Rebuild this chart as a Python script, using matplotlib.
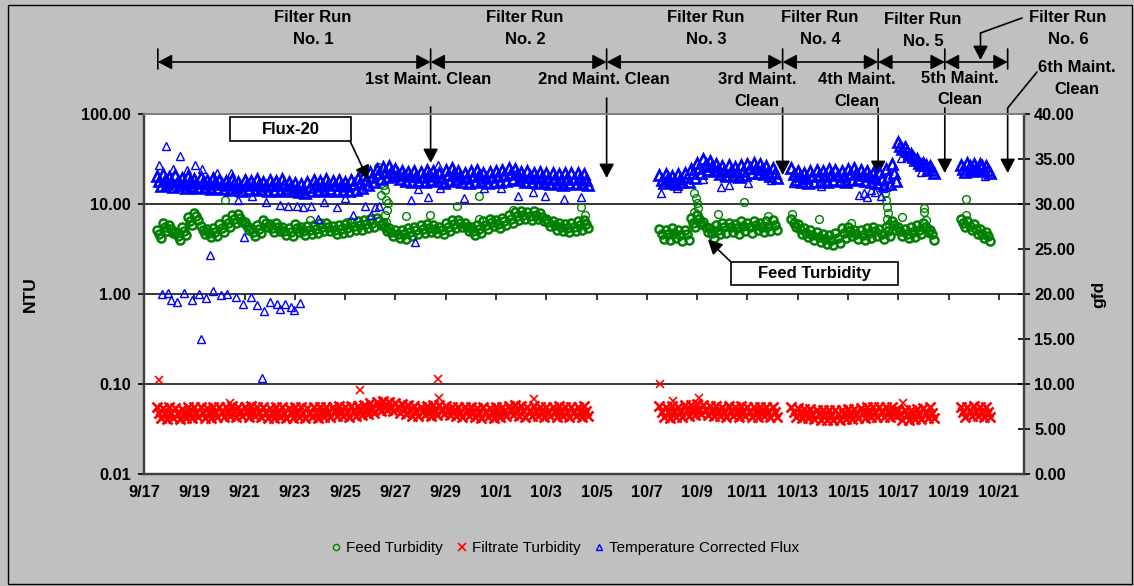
import numpy as np
import matplotlib
matplotlib.use("Agg")
import matplotlib.pyplot as plt
from matplotlib.lines import Line2D
from matplotlib.patches import Rectangle
from matplotlib.ticker import FixedLocator, NullLocator, FuncFormatter

plt.rcParams['font.family'] = ['Liberation Sans', 'DejaVu Sans']

W, H = 1134, 586

# ---------------------------------------------------------------- data
# logged stretches, in days after 9/17 00:00; each 0.25-day slot holds three
# readings (high, middle, low) taken a third of a slot apart
seg_start = [0.5, 20.5, 25.75, 30.0, 32.5]
seg_stop = [17.5, 25.0, 29.75, 31.25, 33.5]
step = 0.25

tick_days = list(range(0, 35, 2))
tick_labels = ['9/17', '9/19', '9/21', '9/23', '9/25', '9/27', '9/29', '10/1', '10/3',
               '10/5', '10/7', '10/9', '10/11', '10/13', '10/15', '10/17', '10/19', '10/21']

# feed turbidity (NTU)
feed_hi = [5.1, 6.2, 5.9, 4.9, 5.5, 7.1, 8.0, 5.7, 5.3, 5.4,
           6.0, 6.8, 7.5, 7.7, 6.3, 5.4, 5.8, 6.7, 6.0, 6.2,
           5.5, 5.4, 6.0, 5.5, 5.7, 5.9, 6.2, 6.1, 5.7, 5.9,
           6.0, 6.3, 6.4, 6.6, 6.8, 7.0, 6.2, 5.4, 5.2, 5.1,
           5.4, 5.6, 5.9, 6.0, 5.9, 5.6, 6.2, 6.6, 6.7, 6.2,
           5.5, 5.9, 6.5, 6.9, 6.6, 7.0, 7.6, 8.1, 8.4, 8.1,
           8.4, 7.9, 6.9, 6.4, 6.2, 6.0, 6.1, 6.4, 6.6,
           5.3, 5.2, 5.4, 5.1, 5.2, 7.0, 7.6, 6.3, 5.4, 5.8,
           6.1, 6.2, 6.0, 6.4, 6.1, 6.5, 6.2, 6.4, 6.6,
           6.9, 6.0, 5.4, 5.1, 4.9, 4.6, 4.5, 4.8, 5.4, 5.6,
           5.2, 5.1, 5.4, 5.6, 5.3, 5.6, 6.5,
           5.6, 5.3, 5.5, 5.8, 6.2, 5.2,
           6.8, 6.4, 6.0, 5.3, 4.9]
feed_mid = [4.6, 5.6, 5.3, 4.4, 5.0, 6.4, 7.3, 5.2, 4.8, 4.9,
            5.4, 6.2, 6.8, 7.0, 5.7, 4.9, 5.3, 6.1, 5.4, 5.6,
            5.0, 4.9, 5.4, 5.0, 5.2, 5.3, 5.6, 5.5, 5.2, 5.3,
            5.4, 5.7, 5.8, 6.0, 6.2, 6.4, 5.6, 4.9, 4.7, 4.6,
            4.9, 5.1, 5.3, 5.4, 5.3, 5.1, 5.6, 6.0, 6.1, 5.6,
            5.0, 5.3, 5.9, 6.3, 6.0, 6.4, 6.9, 7.4, 7.6, 7.4,
            7.6, 7.2, 6.3, 5.8, 5.6, 5.4, 5.5, 5.8, 6.0,
            4.7, 4.6, 4.8, 4.5, 4.6, 6.2, 6.8, 5.6, 4.8, 5.2,
            5.5, 5.6, 5.4, 5.7, 5.5, 5.8, 5.6, 5.7, 5.9,
            6.2, 5.3, 4.8, 4.5, 4.3, 4.1, 4.0, 4.2, 4.8, 5.0,
            4.6, 4.5, 4.8, 5.0, 4.7, 5.0, 5.8,
            5.0, 4.7, 4.9, 5.2, 5.5, 4.6,
            6.1, 5.7, 5.3, 4.7, 4.4]
feed_lo = [4.2, 5.0, 4.8, 4.0, 4.5, 5.8, 6.6, 4.7, 4.3, 4.4,
           4.9, 5.6, 6.1, 6.3, 5.1, 4.4, 4.8, 5.5, 4.9, 5.0,
           4.5, 4.4, 4.9, 4.5, 4.7, 4.8, 5.0, 5.0, 4.7, 4.8,
           4.9, 5.1, 5.2, 5.4, 5.6, 5.8, 5.0, 4.4, 4.2, 4.1,
           4.4, 4.6, 4.8, 4.9, 4.8, 4.6, 5.0, 5.4, 5.5, 5.0,
           4.5, 4.8, 5.3, 5.7, 5.4, 5.8, 6.2, 6.7, 6.8, 6.7,
           6.8, 6.5, 5.7, 5.2, 5.0, 4.9, 5.0, 5.2, 5.4,
           4.1, 4.0, 4.2, 3.9, 4.0, 5.5, 6.0, 4.9, 4.2, 4.6,
           4.8, 4.9, 4.7, 5.0, 4.8, 5.1, 4.9, 5.0, 5.2,
           5.5, 4.7, 4.3, 4.0, 3.8, 3.6, 3.5, 3.7, 4.2, 4.4,
           4.1, 4.0, 4.2, 4.4, 4.1, 4.4, 5.1,
           4.4, 4.2, 4.3, 4.6, 4.9, 4.0,
           5.5, 5.1, 4.7, 4.2, 3.9]

# filtrate turbidity (NTU)
filt_hi = [0.055, 0.054, 0.055, 0.054, 0.053, 0.055, 0.055, 0.055, 0.054, 0.055,
           0.056, 0.055, 0.057, 0.056, 0.055, 0.057, 0.056, 0.055, 0.054, 0.056,
           0.055, 0.054, 0.056, 0.055, 0.054, 0.055, 0.056, 0.055, 0.056, 0.057,
           0.056, 0.057, 0.057, 0.058, 0.061, 0.063, 0.064, 0.063, 0.062, 0.060,
           0.058, 0.057, 0.056, 0.057, 0.058, 0.058, 0.057, 0.056, 0.055, 0.056,
           0.055, 0.054, 0.055, 0.054, 0.055, 0.056, 0.057, 0.058, 0.057, 0.056,
           0.057, 0.056, 0.055, 0.056, 0.057, 0.056, 0.055, 0.056, 0.057,
           0.057, 0.056, 0.057, 0.056, 0.058, 0.059, 0.060, 0.059, 0.057, 0.057,
           0.056, 0.057, 0.056, 0.057, 0.056, 0.055, 0.056, 0.055, 0.056,
           0.055, 0.054, 0.053, 0.053, 0.052, 0.051, 0.051, 0.052, 0.052, 0.053,
           0.053, 0.054, 0.055, 0.055, 0.056, 0.055, 0.056,
           0.052, 0.051, 0.052, 0.053, 0.054, 0.055,
           0.055, 0.056, 0.057, 0.056, 0.055]
filt_mid = [0.048, 0.047, 0.048, 0.047, 0.047, 0.048, 0.049, 0.048, 0.048, 0.049,
            0.049, 0.049, 0.050, 0.050, 0.049, 0.050, 0.049, 0.048, 0.048, 0.049,
            0.048, 0.048, 0.049, 0.048, 0.048, 0.048, 0.049, 0.049, 0.050, 0.050,
            0.049, 0.050, 0.051, 0.052, 0.054, 0.056, 0.057, 0.056, 0.055, 0.053,
            0.051, 0.050, 0.050, 0.050, 0.051, 0.052, 0.051, 0.050, 0.049, 0.050,
            0.049, 0.048, 0.049, 0.048, 0.049, 0.050, 0.051, 0.051, 0.050, 0.050,
            0.050, 0.049, 0.049, 0.049, 0.050, 0.049, 0.049, 0.049, 0.050,
            0.049, 0.049, 0.050, 0.049, 0.051, 0.052, 0.053, 0.052, 0.050, 0.050,
            0.049, 0.050, 0.049, 0.050, 0.049, 0.049, 0.050, 0.049, 0.049,
            0.049, 0.048, 0.047, 0.047, 0.046, 0.045, 0.045, 0.046, 0.046, 0.047,
            0.047, 0.048, 0.049, 0.049, 0.049, 0.049, 0.050,
            0.046, 0.045, 0.046, 0.047, 0.048, 0.048,
            0.049, 0.050, 0.050, 0.049, 0.049]
filt_lo = [0.042, 0.041, 0.042, 0.041, 0.042, 0.042, 0.043, 0.042, 0.042, 0.043,
           0.043, 0.044, 0.043, 0.044, 0.043, 0.044, 0.043, 0.042, 0.042, 0.043,
           0.042, 0.042, 0.043, 0.042, 0.043, 0.042, 0.043, 0.043, 0.044, 0.044,
           0.043, 0.044, 0.045, 0.046, 0.048, 0.050, 0.051, 0.050, 0.048, 0.046,
           0.044, 0.044, 0.045, 0.044, 0.045, 0.046, 0.045, 0.044, 0.043, 0.044,
           0.043, 0.042, 0.043, 0.042, 0.043, 0.044, 0.045, 0.044, 0.043, 0.044,
           0.044, 0.043, 0.044, 0.043, 0.044, 0.043, 0.044, 0.043, 0.044,
           0.043, 0.042, 0.043, 0.043, 0.044, 0.045, 0.046, 0.045, 0.044, 0.044,
           0.043, 0.044, 0.043, 0.044, 0.043, 0.043, 0.044, 0.043, 0.043,
           0.043, 0.042, 0.042, 0.041, 0.040, 0.040, 0.040, 0.040, 0.041, 0.041,
           0.042, 0.042, 0.043, 0.043, 0.043, 0.043, 0.044,
           0.040, 0.040, 0.041, 0.041, 0.042, 0.042,
           0.043, 0.044, 0.044, 0.043, 0.043]

# temperature corrected flux (gfd)
flux_hi = [33.1, 33.3, 33.0, 33.2, 32.9, 33.1, 32.8, 33.0, 32.7, 32.9,
           32.7, 32.6, 32.8, 32.5, 32.7, 32.6, 32.8, 32.5, 32.7, 32.6,
           32.8, 32.5, 32.3, 32.2, 32.5, 32.7, 32.6, 32.8, 32.6, 32.7,
           32.5, 32.7, 32.9, 33.2, 33.6, 33.9, 34.1, 34.2, 33.9, 33.7,
           33.6, 33.7, 33.6, 33.8, 33.7, 33.5, 33.8, 34.0, 33.7, 33.5,
           33.7, 33.8, 33.5, 33.6, 33.7, 33.8, 34.0, 33.9, 33.6, 33.7,
           33.5, 33.6, 33.4, 33.5, 33.3, 33.5, 33.4, 33.5, 33.3,
           33.2, 33.3, 33.1, 33.3, 33.4, 33.9, 34.6, 35.0, 34.8, 34.4,
           34.2, 34.3, 34.1, 34.3, 34.5, 34.6, 34.4, 34.2, 34.0,
           34.0, 33.7, 33.5, 33.7, 33.8, 33.7, 33.9, 33.8, 33.7, 33.9,
           34.0, 33.8, 33.7, 33.5, 33.6, 33.9, 34.4,
           36.9, 36.3, 35.6, 35.0, 34.6, 34.2,
           34.3, 34.6, 34.4, 34.5, 34.2]
flux_mid = [32.6, 32.7, 32.5, 32.6, 32.3, 32.6, 32.3, 32.4, 32.2, 32.4,
            32.2, 32.1, 32.3, 32.0, 32.2, 32.1, 32.2, 32.0, 32.1, 32.1,
            32.2, 32.0, 31.8, 31.7, 31.9, 32.2, 32.0, 32.2, 32.1, 32.1,
            32.0, 32.2, 32.3, 32.7, 33.0, 33.4, 33.6, 33.6, 33.3, 33.2,
            33.1, 33.1, 33.0, 33.3, 33.1, 32.9, 33.2, 33.4, 33.1, 32.9,
            33.1, 33.2, 32.9, 33.0, 33.1, 33.2, 33.4, 33.3, 33.0, 33.1,
            32.9, 33.0, 32.8, 32.9, 32.7, 32.9, 32.8, 32.9, 32.7,
            32.7, 32.9, 32.6, 32.8, 33.0, 33.4, 34.0, 34.4, 34.2, 33.8,
            33.7, 33.7, 33.6, 33.7, 34.0, 34.0, 33.9, 33.6, 33.5,
            33.3, 33.1, 32.9, 33.1, 33.2, 33.1, 33.3, 33.2, 33.1, 33.3,
            33.4, 33.2, 33.1, 32.9, 32.8, 33.0, 33.5,
            36.5, 35.9, 35.2, 34.6, 34.3, 33.8,
            33.9, 34.2, 34.0, 34.2, 33.8]
flux_lo = [32.0, 32.2, 31.9, 32.1, 31.8, 32.0, 31.8, 31.9, 31.7, 31.8,
           31.7, 31.6, 31.8, 31.5, 31.7, 31.6, 31.7, 31.5, 31.6, 31.5,
           31.7, 31.4, 31.3, 31.2, 31.4, 31.6, 31.5, 31.7, 31.5, 31.6,
           31.4, 31.6, 31.8, 32.1, 32.5, 32.8, 33.0, 33.1, 32.8, 32.6,
           32.5, 32.6, 32.5, 32.7, 32.6, 32.3, 32.6, 32.8, 32.5, 32.3,
           32.5, 32.6, 32.3, 32.4, 32.5, 32.6, 32.8, 32.7, 32.4, 32.5,
           32.3, 32.4, 32.2, 32.3, 32.1, 32.3, 32.2, 32.3, 32.1,
           32.3, 32.4, 32.2, 32.4, 32.5, 32.9, 33.5, 33.8, 33.7, 33.3,
           33.1, 33.2, 33.0, 33.2, 33.4, 33.5, 33.3, 33.1, 32.9,
           32.7, 32.5, 32.3, 32.5, 32.6, 32.5, 32.7, 32.6, 32.5, 32.7,
           32.8, 32.6, 32.5, 32.3, 32.1, 32.2, 32.6,
           36.1, 35.5, 34.9, 34.3, 33.9, 33.5,
           33.6, 33.8, 33.7, 33.8, 33.5]

# isolated readings away from the bands (day, value)
feed_odd_day = [3.23, 6.61, 8.09, 9.32, 9.44, 9.56, 9.60, 9.64, 9.68, 9.72, 9.60, 9.64,
                10.44, 11.39, 12.43, 13.31, 13.31, 14.66, 17.37, 17.53,
                21.87, 21.95, 21.99, 22.03, 21.87, 22.83, 23.86, 24.82, 25.78, 26.85, 28.13,
                29.48, 29.52, 29.56, 29.60, 29.56, 29.64, 30.16, 31.04, 31.04, 31.12,
                32.71, 32.71]
feed_odd_ntu = [11.1, 6.6, 6.3, 25.8, 12.6, 16.2, 14.3, 11.1, 8.6, 10.2, 7.6, 6.3,
                7.4, 7.6, 9.5, 6.8, 12.3, 8.6, 9.3, 7.6,
                13.3, 11.7, 10.2, 9.1, 8.1, 7.7, 10.5, 7.4, 7.7, 6.8, 6.2,
                13.3, 11.1, 9.3, 7.9, 6.8, 6.0, 7.2, 9.0, 8.2, 6.6,
                11.3, 7.6]

filt_odd_day = [0.60, 3.43, 8.61, 11.71, 11.75, 15.50, 20.52, 21.04, 22.07, 30.20]
filt_odd_ntu = [0.110, 0.062, 0.085, 0.113, 0.070, 0.069, 0.100, 0.065, 0.070, 0.062]

flux_odd_day = [0.60, 0.88, 1.43, 1.16, 1.71, 2.03, 2.31, 2.91, 3.47, 11.71,
                0.72, 0.96, 1.08, 1.31, 1.59, 1.91, 2.19, 2.47, 2.75, 3.07, 3.31, 3.67,
                3.94, 4.26, 4.50, 4.78, 5.02, 5.30, 5.42, 5.62, 5.86, 5.98, 6.22,
                2.27, 2.63, 4.70, 3.98, 10.76,
                3.23, 3.75, 4.30, 4.86, 5.42, 5.74, 6.10, 6.33, 6.65, 6.93, 7.17, 7.69,
                8.01, 8.33, 8.80, 9.04, 9.20, 9.36, 10.60, 10.88, 11.31, 11.79, 12.71,
                13.51, 14.18, 14.86, 15.46, 15.94, 16.69, 17.37,
                20.56, 21.20, 22.23, 22.95, 23.27, 24.02, 24.94, 25.82, 26.93, 27.81,
                28.65, 28.92, 29.40, 28.45, 28.76, 29.08, 29.32, 30.92, 33.43, 30.12]
flux_odd_gfd = [34.3, 36.4, 35.3, 33.9, 33.8, 34.3, 33.9, 33.4, 33.4, 34.3,
                20.0, 20.1, 19.3, 19.1, 20.1, 19.3, 20.0, 19.6, 20.3, 19.9, 20.0, 19.7,
                18.9, 19.7, 18.8, 18.1, 19.1, 18.9, 18.3, 18.9, 18.6, 18.2, 19.0,
                15.0, 24.3, 10.7, 26.3, 25.8,
                31.7, 30.4, 30.9, 30.2, 29.9, 29.8, 29.8, 29.7, 29.8, 28.3, 30.2, 29.7,
                30.7, 28.8, 29.8, 28.8, 29.7, 29.8, 30.4, 31.7, 30.8, 31.8, 30.7,
                31.8, 31.8, 30.9, 31.3, 30.9, 30.6, 30.8,
                31.2, 31.8, 32.8, 31.9, 32.1, 32.3, 32.7, 32.3, 32.0, 32.4,
                31.2, 31.6, 31.8, 31.0, 30.8, 31.3, 30.9, 33.6, 33.1, 35.1]

# run boundaries / maintenance cleans (days after 9/17)
run_start = 0.55
clean_days = [11.4, 18.4, 25.4, 29.2, 31.85, 34.35]

# ---------------------------------------------------------------- series assembly
t = np.concatenate([np.arange(a, b + step / 2, step) for a, b in zip(seg_start, seg_stop)])
t_all = np.column_stack([t, t + step / 3, t + 2 * step / 3]).ravel()


def readings(hi, mid, lo):
    return np.column_stack([hi, mid, lo]).ravel()


feed = readings(feed_hi, feed_mid, feed_lo)
filt = readings(filt_hi, filt_mid, filt_lo)
flux = readings(flux_hi, flux_mid, flux_lo)

# ---------------------------------------------------------------- figure
GREEN, RED, BLUE = '#008000', '#FF0000', '#0000FF'
BG = '#C0C0C0'

fig = plt.figure(figsize=(W / 100, H / 100), dpi=100, facecolor=BG)
x0, x1, y0, y1 = 144, 1024, 114, 474
ax = fig.add_axes([x0 / W, 1 - y1 / H, (x1 - x0) / W, (y1 - y0) / H])
ax.set_facecolor('white')

ax.set_yscale('log')
ax.set_ylim(0.01, 100)
ax.set_xlim(0, 35)
for g in (0.1, 1, 10):
    ax.axhline(g, color='black', lw=1.1, zorder=1)

feed_band = dict(ls='none', marker='o', mfc='none', mec=GREEN, ms=5.8, mew=1.8, zorder=3)
feed_pt = dict(ls='none', marker='o', mfc='none', mec=GREEN, ms=5.6, mew=1.0, zorder=3)
filt_band = dict(ls='none', marker='x', color=RED, ms=6.6, mew=1.9, zorder=3)
filt_pt = dict(ls='none', marker='x', color=RED, ms=6.2, mew=1.2, zorder=3)
flux_band = dict(ls='none', marker='^', mfc='none', mec=BLUE, ms=7.0, mew=1.9, zorder=3)
flux_pt = dict(ls='none', marker='^', mfc='none', mec=BLUE, ms=6.4, mew=1.0, zorder=3)

ax.plot(t_all, feed, **feed_band)
ax.plot(feed_odd_day, feed_odd_ntu, **feed_pt)
ax.plot(t_all, filt, **filt_band)
ax.plot(filt_odd_day, filt_odd_ntu, **filt_pt)

ax2 = ax.twinx()
ax2.set_ylim(0, 40)
ax2.set_xlim(0, 35)
ax2.plot(flux_odd_day, flux_odd_gfd, **flux_pt)
ax2.plot(t_all, flux, **flux_band)

# axes styling
fmt2 = FuncFormatter(lambda v, p: f"{v:.2f}")
ax.yaxis.set_major_locator(FixedLocator([0.01, 0.1, 1, 10, 100]))
ax.yaxis.set_minor_locator(NullLocator())
ax.yaxis.set_major_formatter(fmt2)
ax.tick_params(axis='y', direction='out', length=4.5, width=1.2, pad=5, labelsize=11.8)
for lab in ax.get_yticklabels():
    lab.set_fontweight('bold')
ax2.yaxis.set_major_locator(FixedLocator(np.arange(0, 41, 5)))
ax2.yaxis.set_major_formatter(fmt2)
ax2.tick_params(axis='y', direction='inout', length=8.6, width=1.2, pad=3, labelsize=11.8)
for lab in ax2.get_yticklabels():
    lab.set_fontweight('bold')

ax.set_xticks(tick_days)
ax.set_xticklabels(tick_labels, fontsize=11.8, fontweight='bold')
ax.tick_params(axis='x', length=0, pad=8)
ax2.tick_params(axis='x', length=0)
# category ticks hang from the 1.00 line
ax.vlines(tick_days, 0.5 - 6 / 360, 0.5, transform=ax.get_xaxis_transform(),
          color='black', lw=1.1, zorder=2)

for a in (ax, ax2):
    for side in ('left', 'right', 'bottom'):
        a.spines[side].set_color('#404040')
        a.spines[side].set_linewidth(1.6)
    a.spines['top'].set_color('#808080')
    a.spines['top'].set_linewidth(1.4)

fig.text(30 / W, 1 - 294 / H, 'NTU', rotation=90, ha='center', va='center',
         fontsize=12.5, fontweight='bold')
fig.text(1099 / W, 1 - 294 / H, 'gfd', rotation=90, ha='center', va='center',
         fontsize=12.5, fontweight='bold')

# ---------------------------------------------------------------- annotations
def fy(y):
    return H - y


ann_font = dict(fontsize=12, fontweight='bold', ha='center', va='center', linespacing=1.5)
runs = [("Filter Run\nNo. 1", 313, 28.5), ("Filter Run\nNo. 2", 525, 28.5),
        ("Filter Run\nNo. 3", 706, 28.5), ("Filter Run\nNo. 4", 820, 28.5),
        ("Filter Run\nNo. 5", 923, 30.5), ("Filter Run\nNo. 6", 1068, 28.5)]
for s, x, y in runs:
    fig.text(x / W, 1 - y / H, s, **ann_font)

cleans = [("1st Maint. Clean", 428, 80), ("2nd Maint. Clean", 604, 80),
          ("3rd Maint.\nClean", 757, 90.5), ("4th Maint.\nClean", 857, 90.5),
          ("5th Maint.\nClean", 960, 89), ("6th Maint.\nClean", 1077, 78.5)]
for s, x, y in cleans:
    fig.text(x / W, 1 - y / H, s, **ann_font)

head = '-|>,head_length=0.85,head_width=0.45'
both = '<|-|>,head_length=0.85,head_width=0.45'
coords = ('data', 'figure pixels')
line_kw = dict(color='black', lw=1.2, shrinkA=0, shrinkB=0)

# run spans
bounds = [run_start] + clean_days
for a, b in zip(bounds[:-1], bounds[1:]):
    ax.annotate('', xy=(b, fy(62)), xycoords=coords, xytext=(a, fy(62)), textcoords=coords,
                arrowprops=dict(arrowstyle=both, mutation_scale=10, **line_kw),
                annotation_clip=False)
for b in bounds:
    ax.annotate('', xy=(b, fy(49)), xycoords=coords, xytext=(b, fy(69)), textcoords=coords,
                arrowprops=dict(arrowstyle='-', **line_kw), annotation_clip=False)

# maintenance clean arrows
tails = [107, 98, 108, 108, 108, 108]
tips = [163, 178, 175, 175, 173, 173]
for d, ta, ti in zip(clean_days, tails, tips):
    ax.annotate('', xy=(d, fy(ti)), xycoords=coords, xytext=(d, fy(ta)), textcoords=coords,
                arrowprops=dict(arrowstyle=head, mutation_scale=10, **line_kw),
                annotation_clip=False)
ax.annotate('', xy=(clean_days[5], fy(108)), xycoords=coords, xytext=(1037, fy(72)),
            textcoords='figure pixels', arrowprops=dict(arrowstyle='-', **line_kw),
            annotation_clip=False)

# leader for the run 6 label
run6_day = 33.27
ax.annotate('', xy=(run6_day, fy(33)), xycoords=coords, xytext=(1022, fy(18)),
            textcoords='figure pixels', arrowprops=dict(arrowstyle='-', **line_kw),
            annotation_clip=False)
ax.annotate('', xy=(run6_day, fy(60)), xycoords=coords, xytext=(run6_day, fy(33)),
            textcoords=coords, arrowprops=dict(arrowstyle=head, mutation_scale=10, **line_kw),
            annotation_clip=False)


# callout boxes
def callout(text, bx0, by0, bx1, by1):
    fig.add_artist(Rectangle((bx0 / W, 1 - by1 / H), (bx1 - bx0) / W, (by1 - by0) / H,
                             transform=fig.transFigure, facecolor='white',
                             edgecolor='black', lw=1.2, zorder=5))
    fig.text((bx0 + bx1) / 2 / W, 1 - (by0 + by1) / 2 / H, text, fontsize=12,
             fontweight='bold', ha='center', va='center', zorder=6)


callout('Flux-20', 230, 117, 351, 141)
ax2.annotate('', xy=(8.92, 32.7), xycoords='data', xytext=(350, fy(141)),
             textcoords='figure pixels',
             arrowprops=dict(arrowstyle=head, mutation_scale=10, **line_kw),
             annotation_clip=False, zorder=6)
callout('Feed Turbidity', 731, 262, 898, 285)
ax.annotate('', xy=(22.43, 4.0), xycoords='data', xytext=(731, fy(262)),
            textcoords='figure pixels',
            arrowprops=dict(arrowstyle=head, mutation_scale=10, **line_kw),
            annotation_clip=False, zorder=6)

# legend
handles = [Line2D([], [], ls='none', marker='o', mfc='none', mec=GREEN, ms=4.5, mew=1.0),
           Line2D([], [], ls='none', marker='x', color=RED, ms=5.5, mew=1.2),
           Line2D([], [], ls='none', marker='^', mfc='none', mec=BLUE, ms=5.0, mew=1.0)]
fig.legend(handles, ['Feed Turbidity', 'Filtrate Turbidity', 'Temperature Corrected Flux'],
           loc='center', bbox_to_anchor=(565 / W, 1 - 548 / H), ncol=3, frameon=False,
           fontsize=11, handlelength=0.7, handletextpad=0.3, columnspacing=0.9)

# chart border
fig.add_artist(Rectangle((8 / W, 1 - 584 / H), 1124 / W, 579 / H, transform=fig.transFigure,
                         fill=False, edgecolor='black', lw=1.0, zorder=0))

fig.savefig('out.png', dpi=100, facecolor=BG)
